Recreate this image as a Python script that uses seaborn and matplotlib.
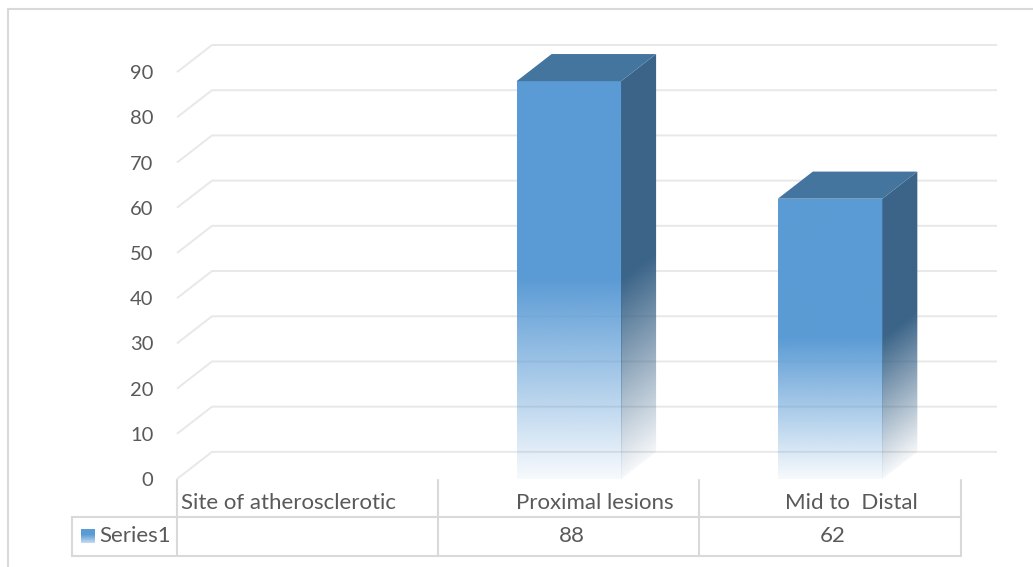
import numpy as np
import pandas as pd
import matplotlib
matplotlib.use("Agg")
import matplotlib.pyplot as plt
import seaborn as sns
from matplotlib.patches import Polygon, Rectangle
from matplotlib.lines import Line2D
from matplotlib.transforms import blended_transform_factory

# ---------------- data ----------------
categories = ["Site of atherosclerotic", "Proximal lesions", "Mid to  Distal"]
series_name = "Series1"
values = [np.nan, 88, 62]
table_values = ["", "88", "62"]
yticks = list(range(0, 91, 10))

# ---------------- style ----------------
FRONT = "#5B9BD5"
SIDE = "#3B6488"
TOP = "#44759F"
GRID = "#E8E8E8"
TXT = "#595959"
TABLE = "#D9D9D9"
FS_TICK = 14.5
FS_TAB = 16

sns.set_theme(style="white")
plt.rcParams['font.family'] = ['Lato', 'DejaVu Sans']

W, H = 1033, 567
fig = plt.figure(figsize=(W / 100, H / 100), dpi=100)
fig.patch.set_facecolor("white")
ax = fig.add_axes([177 / W, (H - 479) / H, (997 - 177) / W, (479 - 45) / H])
ax.set_facecolor("none")

df = pd.DataFrame({"cat": categories, "val": values})
sns.barplot(data=df, x="cat", y="val", order=categories, color=FRONT,
            width=0.4, saturation=1, ax=ax, zorder=2)

DX, DY = 0.134, 6.0
XMAX = 2.5 + DX + 0.005
ax.set_xlim(-0.5, XMAX)
ax.set_ylim(0, 96)

# 3D-style gridlines (side wall + back wall)
for v in yticks:
    ax.plot([-0.5, -0.5 + DX, XMAX], [v, v + DY, v + DY], color=GRID, lw=1.4,
            zorder=0, clip_on=False, solid_capstyle="butt")


def rgba(color):
    return np.array(matplotlib.colors.to_rgba(color))


def alpha_profile(frac):
    a0 = 0.05
    return np.clip(a0 + (1 - a0) * frac / 0.5, 0, 1)


# bars: front gradient, side gradient, top
for p in list(ax.patches):
    h = p.get_height()
    if h is None or not np.isfinite(h) or h <= 0:
        p.set_visible(False)
        continue
    x0, w = p.get_x(), p.get_width()
    p.set_facecolor("none")
    p.set_edgecolor("none")
    # front face
    n = 300
    yy = np.linspace(0, 1, n)
    img = np.zeros((n, 1, 4))
    img[:, 0, :3] = rgba(FRONT)[:3]
    img[:, 0, 3] = alpha_profile(yy)
    front_poly = Rectangle((x0, 0), w, h, facecolor="none", edgecolor="none")
    ax.add_patch(front_poly)
    im = ax.imshow(img, extent=(x0, x0 + w, 0, h), origin="lower", aspect="auto",
                   zorder=3, interpolation="bilinear")
    im.set_clip_path(front_poly)
    # side face
    xr = x0 + w
    side_pts = [(xr, 0), (xr + DX, DY), (xr + DX, h + DY), (xr, h)]
    side_poly = Polygon(side_pts, closed=True, facecolor="none", edgecolor="none")
    ax.add_patch(side_poly)
    nx, ny = 60, 300
    ys = np.linspace(0, h + DY, ny)[:, None]
    ts = np.linspace(0, 1, nx)[None, :]
    local = (ys - ts * DY) / h
    simg = np.zeros((ny, nx, 4))
    simg[..., :3] = rgba(SIDE)[:3]
    simg[..., 3] = alpha_profile(np.clip(local, 0, 1))
    im2 = ax.imshow(simg, extent=(xr, xr + DX, 0, h + DY), origin="lower",
                    aspect="auto", zorder=3, interpolation="bilinear")
    im2.set_clip_path(side_poly)
    # top face
    top_pts = [(x0, h), (xr, h), (xr + DX, h + DY), (x0 + DX, h + DY)]
    ax.add_patch(Polygon(top_pts, closed=True, facecolor=TOP, edgecolor="none",
                         zorder=4))

ax.set_xlim(-0.5, XMAX)
ax.set_ylim(0, 96)
ax.set_yticks(yticks)
ax.set_yticklabels([str(v) for v in yticks])
ax.set_xticks([])
ax.set_xlabel("")
ax.set_ylabel("")
ax.tick_params(axis="y", length=0, pad=17, labelsize=FS_TICK, labelcolor=TXT)
for s in ax.spines.values():
    s.set_visible(False)

# ---------------- data table ----------------
def fy(py):
    return 1 - py / H


def fx(px):
    return px / W


btr = blended_transform_factory(ax.transData, fig.transFigure)
col_edges = [-0.5, 0.5, 1.5, 2.5]
for xe in col_edges:
    fig.add_artist(Line2D([xe, xe], [fy(480), fy(556)], transform=btr,
                          color=TABLE, lw=1.5))
x_right_px = ax.transData.transform((2.5, 0))[0]
for py in (517, 556):
    fig.add_artist(Line2D([fx(72), fx(x_right_px)], [fy(py), fy(py)],
                          transform=fig.transFigure, color=TABLE, lw=1.5))
fig.add_artist(Line2D([fx(72), fx(72)], [fy(517), fy(556)],
                      transform=fig.transFigure, color=TABLE, lw=1.5))

# category labels (header row)
fig.text(-0.485, fy(503), categories[0], transform=btr, ha="left", va="center",
         fontsize=FS_TAB, color=TXT)
fig.text(1.098, fy(503), categories[1], transform=btr, ha="center", va="center",
         fontsize=FS_TAB, color=TXT)
fig.text(2.082, fy(503), categories[2], transform=btr, ha="center", va="center",
         fontsize=FS_TAB, color=TXT)
# value row
for i, t in enumerate(table_values):
    if t:
        fig.text(i + 0.01, fy(536), t, transform=btr, ha="center", va="center",
                 fontsize=FS_TAB, color=TXT)
fig.text(fx(99), fy(536), series_name, ha="left", va="center", fontsize=FS_TAB,
         color=TXT)

# legend key with gradient
kax = fig.add_axes([fx(81), fy(543), 14 / W, 14 / H])
kimg = np.zeros((50, 1, 4))
kimg[:, 0, :3] = rgba(FRONT)[:3]
kimg[:, 0, 3] = np.clip(0.35 + 0.65 * np.linspace(0, 1, 50) / 0.6, 0, 1)
kax.imshow(kimg, origin="lower", aspect="auto", extent=(0, 1, 0, 1))
kax.set_axis_off()

# outer chart border
fig.add_artist(Rectangle((fx(8), fy(567 + 20)), fx(1040 - 8), (567 + 20 - 9) / H,
                         transform=fig.transFigure, facecolor="none",
                         edgecolor=TABLE, lw=1.5, clip_on=False))

fig.savefig("out.png", dpi=100, facecolor="white")
